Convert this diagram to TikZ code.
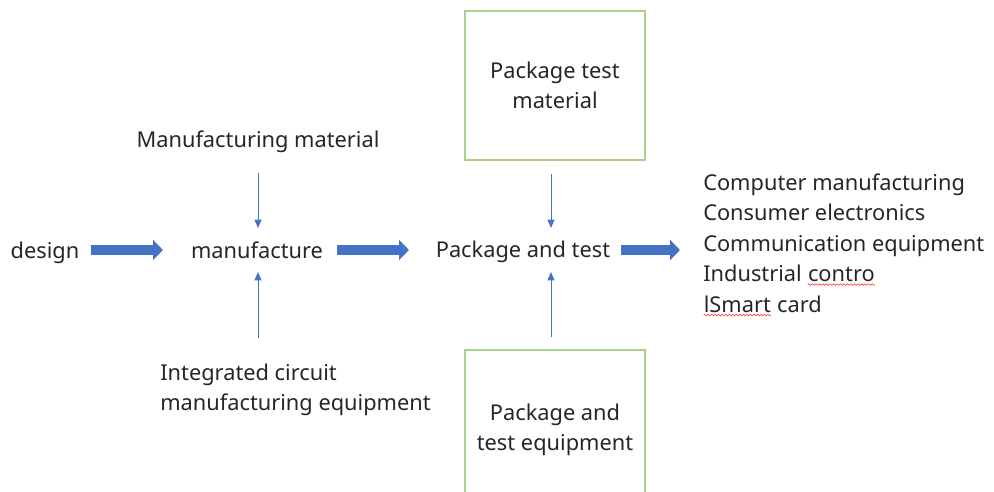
\documentclass[tikz,border=0pt]{standalone}
\usepackage{fontspec}
\setmainfont{Noto Sans}
\usetikzlibrary{arrows.meta,decorations.pathmorphing}

\definecolor{flowblue}{HTML}{4472C4}
\definecolor{boxgreen}{HTML}{A9D18E}
\definecolor{txtgray}{HTML}{262626}

% red wavy underline as in the original
\newcommand\spellwave[1]{\tikz[baseline=(sw.base)]{\node[inner sep=0pt] (sw) {#1};
   \draw[red!80,line width=0.4pt,decorate,decoration={snake,amplitude=0.6pt,segment length=2.5pt}]
   ([yshift=-1.5pt]sw.south west) -- ([yshift=-1.5pt]sw.south east);}}

\begin{document}
\begin{tikzpicture}[x=0.025cm,y=-0.025cm,
   every node/.style={text=txtgray,inner sep=0pt,font=\fontsize{15.5pt}{21.7pt}\selectfont},
   fat/.style={flowblue,line width=7pt,-{Triangle[width=14pt,length=7pt]}},
   feed/.style={flowblue,line width=0.7pt,-{Triangle[width=5pt,length=6pt]}},
   box/.style={draw=boxgreen,line width=1.1pt,minimum width=4.5cm,minimum height=3.725cm,align=center}]

   \useasboundingbox (0,0) rectangle (994,492);

   \node (design) at (45,253) [] {design};
   \node (manu) at (257,250) [] {manufacture};
   \node (pkg) at (523,252) [] {Package and test};

   \node (mmat) at (258,142) [] {Manufacturing material};
   \node (icme) at (160,390) [anchor=west,align=left] {Integrated circuit\\manufacturing equipment};

   \node (ptm) at (555,85.5) [box] {Package test\\material};
   \node (pte) at (555,430) [box,minimum height=4cm] {Package and\\test equipment};
   \coordinate (pkgin) at (551,250);

   \node (apps) at (703,245) [anchor=west,align=left] {Computer manufacturing\\Consumer electronics\\Communication equipment\\Industrial \spellwave{contro}\\\spellwave{lSmart} card};

   \draw [fat,shorten <=1.15cm,shorten >=2.35cm] (design.center |- manu.center) -- (manu.center);
   \draw [fat,shorten <=2cm,shorten >=2.85cm] (manu.center) -- (pkg.center |- manu.center);
   \draw [fat,shorten <=2.45cm,shorten >=0.575cm] (pkg.center |- manu.center) -- (manu.center -| apps.west);

   \draw [feed,shorten <=0.775cm,shorten >=0.55cm] (mmat.center) -- (mmat.center |- manu.center);
   \draw [feed,shorten <=1.3cm,shorten >=0.55cm] (icme.west -| mmat.center) -- (mmat.center |- manu.center);

   \draw [feed,shorten <=0.325cm,shorten >=0.55cm] (ptm.south -| pkgin) -- (pkgin);
   \draw [feed,shorten <=0.3cm,shorten >=0.55cm] (pte.north -| pkgin) -- (pkgin);

\end{tikzpicture}
\end{document}
